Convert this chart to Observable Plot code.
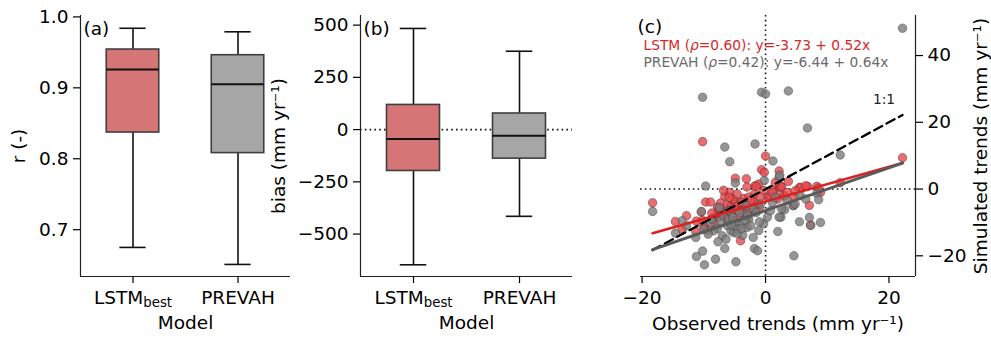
<!DOCTYPE html>
<html><head><meta charset="utf-8">
<script src="https://cdn.jsdelivr.net/npm/d3@7"></script>
<script src="https://cdn.jsdelivr.net/npm/@observablehq/plot@0.6"></script>
<style>
html,body{margin:0;padding:0;background:#fff;}
#root{position:relative;width:991px;height:338px;overflow:hidden;font-family:"DejaVu Sans",sans-serif;}
#root svg{position:absolute;top:0;overflow:visible;}
</style></head><body><div id="root"></div>
<script>
// ---------- data ----------
const models = ["LSTM_best", "PREVAH"];
const modelPos = [1, 2];
const modelFill = ["#d57575", "#a6a6a6"];

// panel (a): correlation r box statistics
const rLow  = [0.675, 0.651];
const rQ1   = [0.837, 0.808];
const rMed  = [0.926, 0.905];
const rQ3   = [0.954, 0.946];
const rHigh = [0.984, 0.979];
const rTicks = [0.7, 0.8, 0.9, 1.0];

// panel (b): bias box statistics (mm/yr)
const biasLow  = [-647, -415];
const biasQ1   = [-198, -139];
const biasMed  = [-45, -29];
const biasQ3   = [118, 77];
const biasHigh = [484, 375];
const biasTicks = [-500, -250, 0, 250, 500];

// panel (c): trends per station (mm/yr)
const obsTrend = [
  22.2, -18.3, -10.2, -0.65, 0.0, 3.7, 6.8, -6.6, -1.7, 1.2,
  -5.8, 12.1, -9.7, -4.9, -0.2, 2.2, 2.3, -3.1, 5.5, 8.3,
  8.9, 7.3, -14.6, -11.3, -11.2, -10.2, -9.9, -8.1, -6.6, -4.8,
  -4.05, -1.8, -1.3, 4.6, 7.1, 2.5, 2.2, 0.3, 2.0, -0.3,
  -1.1, 4.5, 3.1, 2.6, 5.6, 8.6, 6.5, -10.4, -10.0, -8.9,
  -3.5, -2.7, -1.9, -0.8, -1.5, -3.0, -7.3, -6.8, -6.2, -5.6,
  -4.9, -5.2, -7.8, -8.4, -9.3, -7.0, -6.0, -5.5, -4.5, -4.2,
  -3.7, -3.3, -2.4, -2.0, -7.5, -6.4, -5.9, -5.3, -4.6, -3.9,
  -8.7, -7.7, -2.9, -1.0, 0.8, 1.1, 3.5, 4.8, 1.6, -12.8,
  -13.5];
const lstmTrend = [
  9.4, -4.1, 14.2, 5.8, 9.9, 2.3, 0.8, -2.2, 1.0, -0.4,
  -1.0, 1.9, -3.9, 3.2, 5.0, 5.4, 0.6, 3.1, 0.4, 0.8,
  -1.0, -10.8, -9.7, -12.7, -9.6, -9.4, -11.3, -8.0, -6.5, -4.0,
  -15.5, -1.5, -4.5, -2.2, -4.9, 0.9, -1.6, -2.4, -3.0, -0.4,
  1.5, -4.9, -2.0, 0.6, 0.5, 0.3, 1.0, -6.9, -11.0, -3.9,
  -2.8, -2.4, -3.9, -2.4, 0.8, 0.6, -4.2, -0.4, -4.8, -5.1,
  -4.5, -3.0, -5.5, -10.0, -12.5, -7.5, -6.5, -7.8, -6.5, -8.5,
  -6.0, -5.2, -3.3, -6.8, -6.0, -8.8, -2.5, -9.5, -1.5, -4.0,
  -7.2, -8.5, -7.0, -5.5, -2.4, -1.0, -1.0, -0.5, 2.0, -8.0,
  -12.0];
const prevahTrend = [
  48.2, -6.7, 27.5, 29.0, 28.5, 29.4, 18.3, 12.6, 13.5, 8.4,
  8.2, 10.2, 0.9, 1.8, 2.6, 3.6, 4.1, -5.0, -9.8, -1.3,
  -10.0, -10.8, -13.2, -14.5, -20.2, -18.6, -22.7, -21.0, -17.8, -21.8,
  -10.5, -17.8, -18.5, -20.0, -8.5, -8.4, -8.4, -8.4, -12.7, -10.4,
  -12.4, -5.0, -6.2, -5.9, -1.9, -3.2, -3.0, -6.7, -12.0, -10.0,
  -7.5, -9.0, -6.0, -4.5, -7.0, -11.5, -9.5, -8.0, -11.0, -12.5,
  -10.2, -13.0, -11.8, -12.5, -13.5, -14.0, -9.0, -10.8, -12.0, -7.0,
  -13.8, -9.3, -11.0, -14.5, -5.5, -15.0, -6.5, -8.5, -13.3, -11.8,
  -9.0, -15.8, -8.0, -9.8, -6.5, -4.0, -3.5, -4.5, -2.5, -11.0,
  -9.5];
const fitLabels = ["LSTM (ρ=0.60): y=-3.73 + 0.52x", "PREVAH (ρ=0.42): y=-6.44 + 0.64x"];
const fitIntercept = [-3.73, -6.44];
const fitSlope = [0.52, 0.64];
const fitColors = ["#dd2020", "#5a5a5a"];
const textColors = ["#d62728", "#6a6a6a"];
const trendXTicks = [-20, 0, 20];
const trendYTicks = [-20, 0, 20, 40];

// ---------- helpers ----------
const root = document.getElementById("root");
const FS = 18.5;
const SFS = 13.8;
const baseStyle = {fontFamily: "DejaVu Sans", fontSize: FS + "px", background: "transparent", overflow: "visible", color: "#000"};

function boxRows(low, q1, med, q3, high) {
  return models.map((m, i) => ({m, pos: modelPos[i], low: low[i], q1: q1[i], med: med[i], q3: q3[i], high: high[i], fill: modelFill[i]}));
}

function boxPanel(rows, yDomain, yTicks, yFmt, yLabel, yLabelDx, tag, extraMarks, left, marginRight) {
  const xDomain = [0.5, 2.5];
  const p = Plot.plot({
    width: 300, height: 338,
    marginLeft: 80, marginRight: marginRight, marginTop: 15, marginBottom: 62,
    style: baseStyle,
    x: {domain: xDomain},
    y: {domain: yDomain},
    color: {type: "identity"},
    marks: [
      ...extraMarks,
      Plot.ruleX(rows, {x: "pos", y1: "low", y2: "q1", stroke: "#111", strokeWidth: 1.6}),
      Plot.ruleX(rows, {x: "pos", y1: "q3", y2: "high", stroke: "#111", strokeWidth: 1.6}),
      Plot.ruleY(rows, {y: "low", x1: d => d.pos - 0.125, x2: d => d.pos + 0.125, stroke: "#111", strokeWidth: 1.6}),
      Plot.ruleY(rows, {y: "high", x1: d => d.pos - 0.125, x2: d => d.pos + 0.125, stroke: "#111", strokeWidth: 1.6}),
      Plot.rect(rows, {x1: d => d.pos - 0.25, x2: d => d.pos + 0.25, y1: "q1", y2: "q3", fill: "fill", stroke: "#3f3f3f", strokeWidth: 1.6}),
      Plot.ruleY(rows, {y: "med", x1: d => d.pos - 0.25, x2: d => d.pos + 0.25, stroke: "#111", strokeWidth: 2}),
      Plot.ruleX([xDomain[0]], {stroke: "#222", strokeWidth: 1.2}),
      Plot.ruleY([yDomain[0]], {stroke: "#222", strokeWidth: 1.2}),
      Plot.axisY(yTicks, {tickSize: 7, tickPadding: 5, tickFormat: yFmt, label: null, strokeWidth: 1.2}),
      Plot.axisX(modelPos, {tickSize: 7, tickPadding: 7, tickFormat: d => models[modelPos.indexOf(d)], label: null, strokeWidth: 1.2}),
      Plot.text([yLabel], {frameAnchor: "left", dx: yLabelDx, rotate: -90, textAnchor: "middle", lineAnchor: "middle", fontSize: FS}),
      Plot.text(["Model"], {frameAnchor: "bottom", dy: 46.5, textAnchor: "middle", lineAnchor: "middle", fontSize: FS}),
      Plot.text([tag], {frameAnchor: "top-left", dx: 3, dy: 13.5, textAnchor: "start", lineAnchor: "middle", fontSize: FS})
    ]
  });
  p.style.left = left + "px";
  root.appendChild(p);
  return p;
}

// ---------- panel (a) ----------
const rDomain = [0.634, 1.002];
boxPanel(boxRows(rLow, rQ1, rMed, rQ3, rHigh), rDomain, rTicks, d3.format(".1f"), "r (-)", -61, "(a)", [], 0, 10);

// ---------- panel (b) ----------
const biasDomain = [-703, 546];
boxPanel(boxRows(biasLow, biasQ1, biasMed, biasQ3, biasHigh), biasDomain, biasTicks, d => d3.format("d")(d).replace("-", "\u2212"),
  "bias (mm yr\u207B\u00B9)", -81, "(b)",
  [Plot.ruleY([0], {stroke: "#111", strokeWidth: 1.6, strokeDasharray: "1.6,3.2"})], 280, 8);

// ---------- panel (c) ----------
const stations = obsTrend.map((x, i) => ({x, lstm: lstmTrend[i], prevah: prevahTrend[i]}));
const xExt = d3.extent(obsTrend);
const fitRows = [];
fitLabels.forEach((lab, k) => xExt.forEach(x => fitRows.push({k, x, y: fitIntercept[k] + fitSlope[k] * x})));
const oneRows = xExt.map(x => ({x, y: x}));
const cx = [-20.26, 24.3], cy = [-26.2, 52.0];

const pc = Plot.plot({
  width: 391, height: 338,
  marginLeft: 40, marginRight: 76, marginTop: 15, marginBottom: 62,
  style: baseStyle,
  x: {domain: cx},
  y: {domain: cy},
  marks: [
    Plot.ruleY([0], {stroke: "#111", strokeWidth: 1.6, strokeDasharray: "1.6,3.2"}),
    Plot.ruleX([0], {stroke: "#111", strokeWidth: 1.6, strokeDasharray: "1.6,3.2"}),
    Plot.dot(stations, {x: "x", y: "lstm", r: 4.3, fill: "#e5484d", fillOpacity: 0.8, stroke: "#2a1010", strokeOpacity: 0.55, strokeWidth: 0.7}),
    Plot.dot(stations, {x: "x", y: "prevah", r: 4.3, fill: "#7c7c7c", fillOpacity: 0.8, stroke: "#2a2a2a", strokeOpacity: 0.55, strokeWidth: 0.7}),
    Plot.line(oneRows, {x: "x", y: "y", stroke: "#000", strokeWidth: 2.3, strokeDasharray: "9,5"}),
    Plot.line(fitRows.filter(d => d.k === 0), {x: "x", y: "y", stroke: fitColors[0], strokeWidth: 2.6}),
    Plot.line(fitRows.filter(d => d.k === 1), {x: "x", y: "y", stroke: fitColors[1], strokeWidth: 3}),
    Plot.text(["1:1"], {x: xExt[1] - 3, y: xExt[1] + 4.5, fontSize: SFS, fill: "#222"}),
    Plot.ruleX([cx[1]], {stroke: "#222", strokeWidth: 1.2}),
    Plot.ruleY([cy[0]], {stroke: "#222", strokeWidth: 1.2}),
    Plot.axisY(trendYTicks, {anchor: "right", tickSize: 7, tickPadding: 5, label: null, strokeWidth: 1.2}),
    Plot.axisX(trendXTicks, {tickSize: 7, tickPadding: 7, label: null, strokeWidth: 1.2}),
    Plot.text(["Observed trends (mm yr\u207B\u00B9)"], {frameAnchor: "bottom", dy: 47.5, textAnchor: "middle", lineAnchor: "middle", fontSize: FS}),
    Plot.text(["Simulated trends (mm yr\u207B\u00B9)"], {frameAnchor: "right", dx: 66, rotate: -90, textAnchor: "middle", lineAnchor: "middle", fontSize: FS}),
    Plot.text(["(c)"], {frameAnchor: "top-left", dx: -3, dy: 12, textAnchor: "start", lineAnchor: "middle", fontSize: FS}),
    Plot.text([fitLabels[0]], {frameAnchor: "top-left", dx: 3, dy: 30.5, textAnchor: "start", lineAnchor: "middle", fontSize: SFS, fill: textColors[0]}),
    Plot.text([fitLabels[1]], {frameAnchor: "top-left", dx: 3, dy: 47, textAnchor: "start", lineAnchor: "middle", fontSize: SFS, fill: textColors[1]})
  ]
});
pc.style.left = "600px";
root.appendChild(pc);

// ---------- text post-processing: subscript & italic rho ----------
d3.select(root).selectAll("text").each(function () {
  const t = d3.select(this);
  const s = this.textContent;
  if (s === "LSTM_best") {
    t.text("LSTM");
    t.append("tspan").attr("font-size", "0.72em").attr("dy", "0.28em").text("best");
  } else if (s.includes("ρ") && this.childElementCount === 0) {
    const parts = s.split("ρ");
    t.text(parts[0]);
    t.append("tspan").attr("font-style", "italic").text("ρ");
    t.append("tspan").text(parts[1]);
  }
});
</script></body></html>
